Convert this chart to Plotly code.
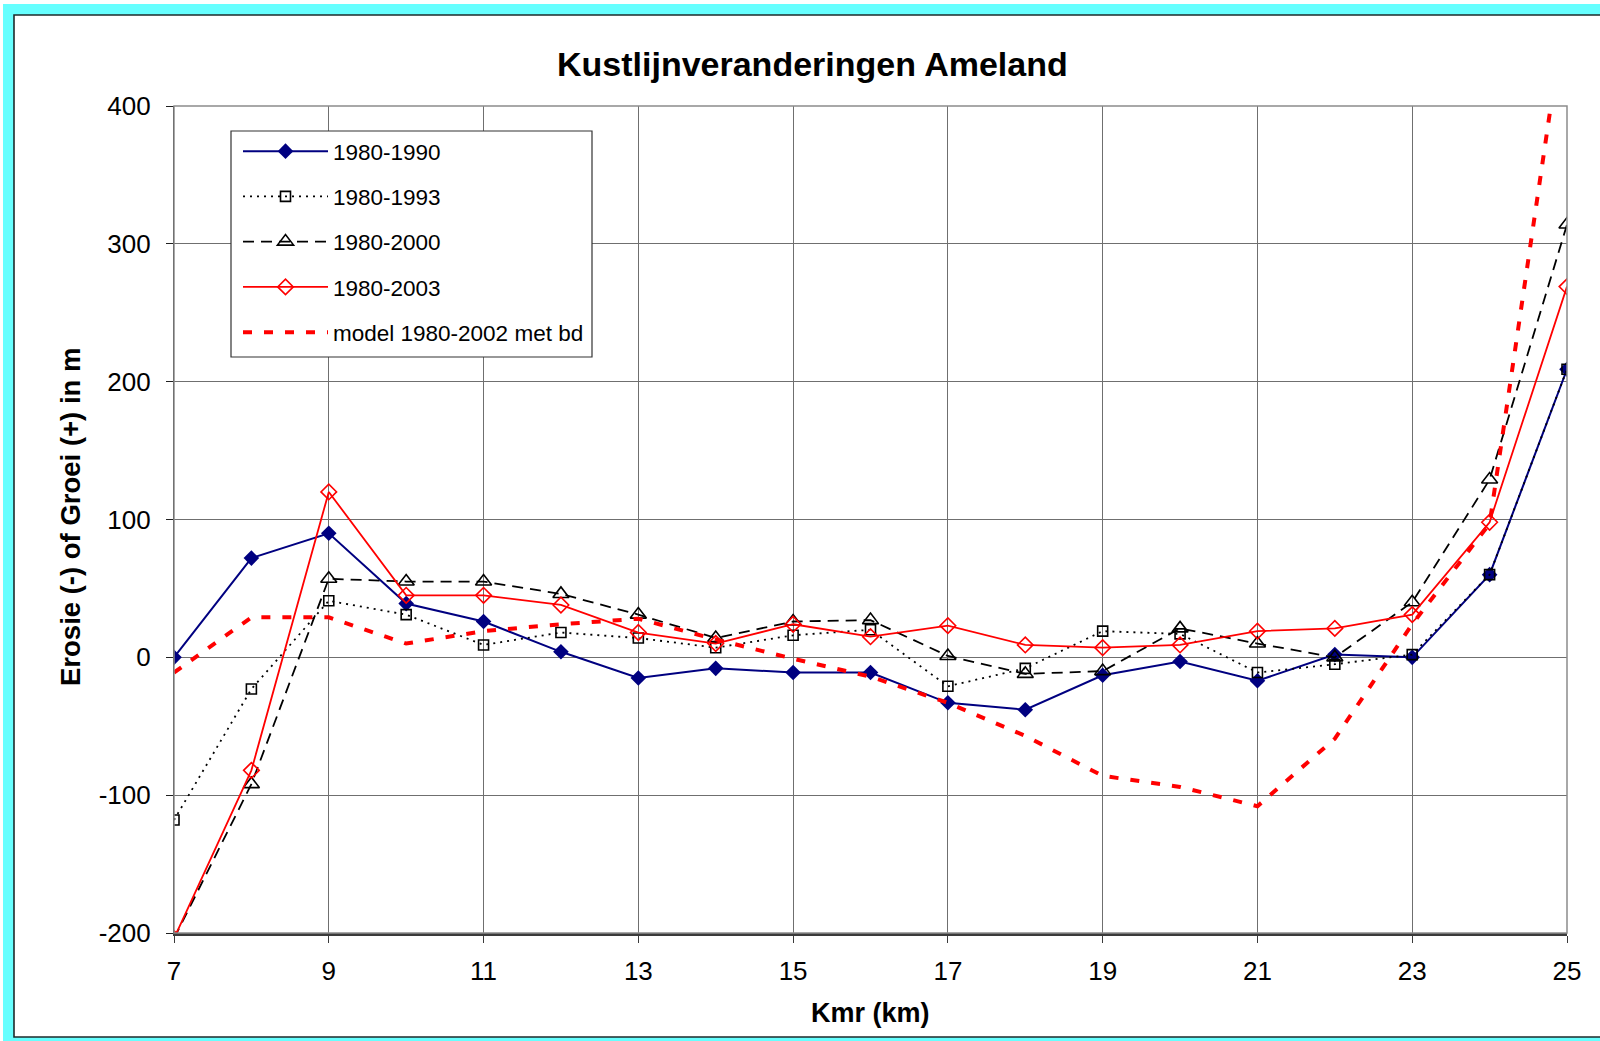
import plotly.graph_objects as go

kmr = [7, 8, 9, 10, 11, 12, 13, 14, 15, 16, 17, 18, 19, 20, 21, 22, 23, 24, 25]
s1990 = [0, 72, 90, 39, 26, 4, -15, -8, -11, -11, -33, -38, -13, -3, -17, 2, 0, 60, 209]
s1993 = [-118, -23, 41, 31, 9, 18, 14, 7, 16, 20, -21, -8, 19, 17, -11, -5, 2, 60, 209]
s2000 = [-204, -92, 57, 55, 55, 46, 31, 14, 26, 27, 1, -12, -10, 21, 10, 0, 40, 129, 314]
s2003 = [-204, -82, 120, 45, 45, 38, 18, 10, 24, 15, 23, 9, 7, 9, 19, 21, 31, 98, 269]
model = [-11, 29, 29, 10, 19, 24, 28, 13, -1, -14, -33, -57, -86, -94, -108, -59, 24, 97, 480]

xticks = [7, 9, 11, 13, 15, 17, 19, 21, 23, 25]
yticks = [-200, -100, 0, 100, 200, 300, 400]

W, H = 1600, 1041
L, R, T, B = 174, 33, 106, 108
PW, PH = W - L - R, H - T - B


def px(x):
    return (x - L) / PW


def py(y):
    return (H - B - y) / PH


FONT = "Liberation Sans, Arial, sans-serif"

fig = go.Figure()
fig.add_trace(go.Scatter(
    x=kmr, y=s1990, name="1980-1990", mode="lines+markers", legendgroup="a",
    line=dict(color="#000080", width=2),
    marker=dict(symbol="diamond", size=12, color="#000080")))
fig.add_trace(go.Scatter(
    x=kmr, y=s1993, name="1980-1993", mode="lines+markers", legendgroup="b",
    line=dict(color="black", width=1.8, dash="2px,5px"),
    marker=dict(symbol="square-open", size=10, color="black", line=dict(width=1.6))))
fig.add_trace(go.Scatter(
    x=kmr, y=s2000, name="1980-2000", mode="lines+markers", legendgroup="c",
    line=dict(color="black", width=1.8, dash="11px,7px"),
    marker=dict(symbol="triangle-up-open", size=14, color="black", line=dict(width=1.6))))
fig.add_trace(go.Scatter(
    x=kmr, y=s2003, name="1980-2003", mode="lines+markers", legendgroup="d",
    line=dict(color="#ff0000", width=1.8),
    marker=dict(symbol="diamond-open", size=12, color="#ff0000", line=dict(width=1.6))))
fig.add_trace(go.Scatter(
    x=kmr, y=model, name="model 1980-2002 met bd", mode="lines", legendgroup="e",
    line=dict(color="#ff0000", width=4, dash="9px,12px")))

shapes = [
    dict(type="rect", xref="paper", yref="paper", layer="below",
         x0=px(3), x1=px(1610), y0=py(4), y1=py(1045),
         fillcolor="#66ffff", line=dict(width=0)),
    dict(type="rect", xref="paper", yref="paper", layer="below",
         x0=px(14), x1=px(1620), y0=py(15), y1=py(1037),
         fillcolor="white", line=dict(color="#1e2b2b", width=1.6)),
    dict(type="rect", xref="paper", yref="paper", layer="above",
         x0=0, x1=1, y0=0, y1=1, line=dict(color="#8c8c8c", width=1.5)),
    dict(type="rect", xref="paper", yref="paper", layer="above",
         x0=px(231), x1=px(592), y0=py(131), y1=py(357),
         fillcolor="white", line=dict(color="#333333", width=1.2)),
]

annotations = [
    dict(text="<b>Kustlijnveranderingen Ameland</b>", xref="paper", yref="paper",
         x=px(812), y=py(64), showarrow=False, xanchor="center", yanchor="middle",
         font=dict(size=34, color="black", family=FONT)),
    dict(text="<b>Kmr (km)</b>", xref="paper", yref="paper",
         x=px(870), y=py(1013), showarrow=False, xanchor="center", yanchor="middle",
         font=dict(size=27, color="black", family=FONT)),
    dict(text="<b>Erosie (-) of Groei (+) in m</b>", xref="paper", yref="paper",
         x=px(70), y=py(517), showarrow=False, xanchor="center", yanchor="middle",
         textangle=-90, font=dict(size=27.5, color="black", family=FONT)),
]

fig.update_layout(
    width=W, height=H, autosize=False,
    margin=dict(l=L, r=R, t=T, b=B, pad=0),
    paper_bgcolor="white", plot_bgcolor="rgba(0,0,0,0)",
    font=dict(family=FONT, color="black"),
    shapes=shapes, annotations=annotations,
    showlegend=True,
    legend=dict(x=px(238), y=py(130), xanchor="left", yanchor="top",
                bgcolor="rgba(0,0,0,0)", borderwidth=0,
                font=dict(size=22.5, color="black", family=FONT),
                itemwidth=85, tracegroupgap=13, traceorder="grouped"),
)
fig.update_xaxes(range=[7, 25], tickvals=xticks, ticktext=[str(v) for v in xticks],
                 showgrid=True, gridcolor="#6f6f6f", gridwidth=1,
                 zeroline=False, showline=True, linecolor="#3a3a3a", linewidth=2.5,
                 ticks="outside", ticklen=7, tickcolor="#3a3a3a", tickwidth=1,
                 tickfont=dict(size=26, color="black", family=FONT),
                 ticklabelstandoff=6)
fig.update_yaxes(range=[-200, 400], tickvals=yticks, ticktext=[str(v) for v in yticks],
                 showgrid=True, gridcolor="#6f6f6f", gridwidth=1,
                 zeroline=False, showline=True, linecolor="#202020", linewidth=1.2,
                 ticks="outside", ticklen=7, tickcolor="#202020", tickwidth=1,
                 tickfont=dict(size=26, color="black", family=FONT),
                 ticklabelstandoff=10)

fig.write_html("out.html", config={"displayModeBar": False},
               post_script="document.body.style.margin='0';document.body.style.overflow='hidden';")
